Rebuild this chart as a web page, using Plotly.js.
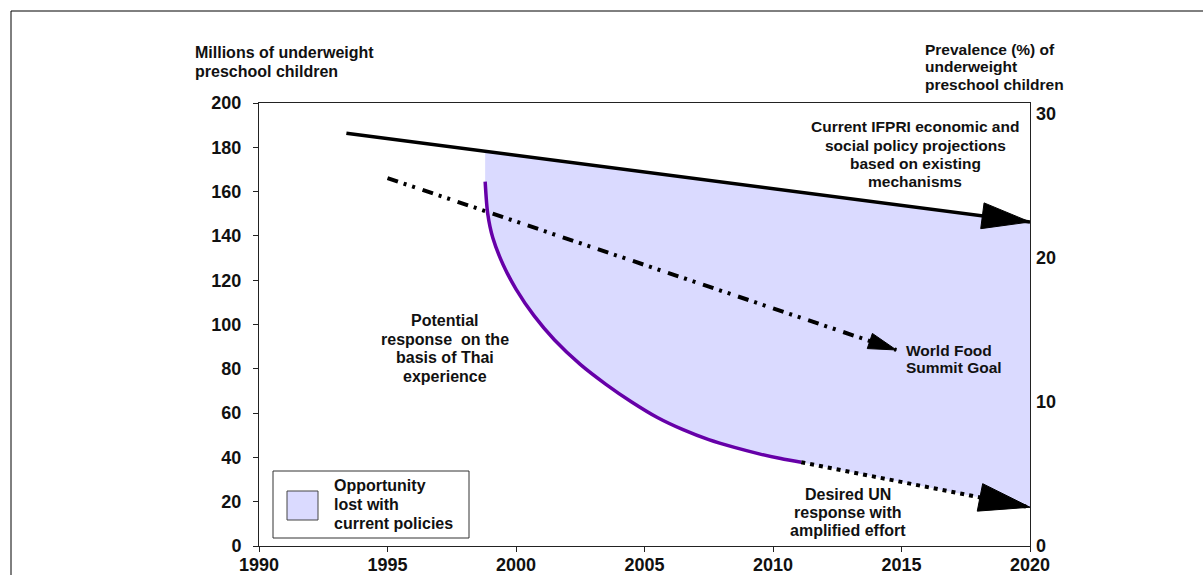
<!DOCTYPE html>
<html>
<head>
<meta charset="utf-8">
<script src="https://cdn.plot.ly/plotly-3.0.1.min.js"></script>
<style>html,body{margin:0;padding:0;background:#fff;}#chart{width:1203px;height:575px;}</style>
</head>
<body>
<div id="chart"></div>
<script>
// ---- data ----
const ifpriYears = [1993.4, 2020];
const ifpriValues = [186.3, 146.3];

const wfsYears = [1995.0, 2014.8];
const wfsValues = [166.1, 88.5];

const thaiYears = [1998.8, 1998.9, 1999.1, 1999.5, 2000.0, 2000.7, 2001.5, 2002.5, 2003.5, 2004.5, 2005.5, 2006.5, 2007.5, 2008.5, 2009.5, 2010.3, 2011.1];
const thaiValues = [164.5, 150.0, 139.0, 127.0, 116.0, 104.0, 93.0, 82.0, 73.0, 65.0, 58.0, 52.5, 48.0, 44.5, 41.5, 39.5, 37.8];

const unYears = [2011.1, 2020];
const unValues = [37.8, 17.5];

const xTicks = [1990, 1995, 2000, 2005, 2010, 2015, 2020];
const yTicks = [0, 20, 40, 60, 80, 100, 120, 140, 160, 180, 200];
const prevalenceTicks = [0, 10, 20, 30];
const millionsPerPercent = 6.5;

// ---- layout geometry ----
const W = 1203, H = 575;
const M = {l: 259, r: 173, t: 103, b: 29};
const xRange = [1990, 2020], yRange = [0, 200];
const sx = (W - M.l - M.r) / (xRange[1] - xRange[0]);
const sy = (H - M.t - M.b) / (yRange[1] - yRange[0]);

const FONT = 'Liberation Sans, Arial, Helvetica, sans-serif';
const txt = (size) => ({family: FONT, size: size, color: '#111', weight: 'bold'});

// fill region: between IFPRI line (top) and Thai + UN responses (bottom)
function interp(xs, ys, x) {
  const t = (x - xs[0]) / (xs[xs.length - 1] - xs[0]);
  return ys[0] + t * (ys[ys.length - 1] - ys[0]);
}
const fillX = [thaiYears[0], ifpriYears[ifpriYears.length - 1]];
const fillY = [interp(ifpriYears, ifpriValues, thaiYears[0]), ifpriValues[ifpriValues.length - 1]];
for (let i = unYears.length - 1; i >= 0; i--) { fillX.push(unYears[i]); fillY.push(unValues[i]); }
for (let i = thaiYears.length - 1; i >= 0; i--) { fillX.push(thaiYears[i]); fillY.push(thaiValues[i]); }

// arrowhead triangle computed at the end of a series, sizes in pixels
function arrowHead(xs, ys, len, half) {
  const n = xs.length;
  const tx = xs[n - 1] * sx, ty = ys[n - 1] * sy;
  const px = xs[n - 2] * sx, py = ys[n - 2] * sy;
  const d = Math.hypot(tx - px, ty - py);
  const ux = (tx - px) / d, uy = (ty - py) / d;
  const bx = tx - len * ux, by = ty - len * uy;
  const nx = -uy, ny = ux;
  const pts = [[tx, ty], [bx + half * nx, by + half * ny], [bx - half * nx, by - half * ny], [tx, ty]];
  return {x: pts.map(p => p[0] / sx), y: pts.map(p => p[1] / sy)};
}
function headTrace(h) {
  return {x: h.x, y: h.y, type: 'scatter', mode: 'lines', fill: 'toself', fillcolor: '#000',
          line: {color: '#000', width: 1}, hoverinfo: 'skip', showlegend: false};
}

const FILL = '#DADAFF';
const traces = [
  {x: fillX, y: fillY, type: 'scatter', mode: 'none', fill: 'toself', fillcolor: FILL, hoverinfo: 'skip', showlegend: false},
  {x: ifpriYears, y: ifpriValues, type: 'scatter', mode: 'lines', line: {color: '#000', width: 3.5}, showlegend: false},
  {x: wfsYears, y: wfsValues, type: 'scatter', mode: 'lines', line: {color: '#000', width: 4, dash: '11px,6px,3px,6px,3px,8px'}, showlegend: false},
  {x: thaiYears, y: thaiValues, type: 'scatter', mode: 'lines', line: {color: '#6600A8', width: 3.5, shape: 'spline', smoothing: 0.8}, showlegend: false},
  {x: unYears, y: unValues, type: 'scatter', mode: 'lines', line: {color: '#000', width: 4, dash: '4px,5px'}, showlegend: false},
  headTrace(arrowHead(ifpriYears, ifpriValues, 48, 13)),
  headTrace(arrowHead(wfsYears, wfsValues, 28, 8)),
  headTrace(arrowHead(unYears, unValues, 51, 14)),
  {x: [null], y: [null], yaxis: 'y2', type: 'scatter', mode: 'lines', showlegend: false, hoverinfo: 'skip'}
];

const px2x = (p) => xRange[0] + (p - M.l) / sx;
const px2y = (p) => (H - M.b - p) / sy;
const px2paperX = (p) => (p - M.l) / (W - M.l - M.r);
const px2paperY = (p) => (H - M.b - p) / (H - M.t - M.b);

// one annotation per text line, so the line spacing follows the reference
function textBlock(lines, xPx, firstLinePx, spacing, anchor, size) {
  return lines.map((s, i) => ({
    xref: 'paper', yref: 'paper', x: px2paperX(xPx), y: px2paperY(firstLinePx + i * spacing),
    xanchor: anchor, yanchor: 'middle', align: anchor === 'left' ? 'left' : 'center',
    showarrow: false, text: s, font: txt(size)
  }));
}

const annotations = [].concat(
  textBlock(['Millions of underweight', 'preschool children'], 193, 53, 18.7, 'left', 16),
  textBlock(['Prevalence (%) of', 'underweight', 'preschool children'], 923, 49, 17.8, 'left', 15.5),
  textBlock(['Current IFPRI economic and', 'social policy projections', 'based on existing', 'mechanisms'], 915, 127, 18.3, 'center', 15.5),
  textBlock(['World Food', 'Summit Goal'], 904, 350, 17, 'left', 15.5),
  textBlock(['Potential', 'response\u00A0 on the', 'basis of Thai', 'experience'], 445, 320.5, 18.6, 'center', 16),
  textBlock(['Desired UN', 'response with', 'amplified effort'], 848, 494, 18, 'center', 16),
  textBlock(['Opportunity', 'lost with', 'current policies'], 332, 485, 19, 'left', 16)
);

const layout = {
  width: W, height: H,
  margin: M,
  paper_bgcolor: '#fff', plot_bgcolor: '#fff',
  showlegend: false,
  xaxis: {
    range: xRange, tickvals: xTicks, ticktext: xTicks.map(String),
    showgrid: false, zeroline: false,
    showline: true, linecolor: '#222', linewidth: 1, mirror: true,
    ticks: 'outside', ticklen: 5, tickcolor: '#222', tickfont: txt(18),
    ticklabelstandoff: -3
  },
  yaxis: {
    range: yRange, tickvals: yTicks, ticktext: yTicks.map(String),
    showgrid: false, zeroline: false,
    showline: true, linecolor: '#222', linewidth: 1, mirror: true,
    ticks: 'outside', ticklen: 5, tickcolor: '#222', tickfont: txt(18),
    ticklabelstandoff: 8
  },
  yaxis2: {
    overlaying: 'y', side: 'right',
    range: [yRange[0] / millionsPerPercent, yRange[1] / millionsPerPercent],
    tickvals: prevalenceTicks, ticktext: prevalenceTicks.map(String),
    showgrid: false, zeroline: false, showline: false, ticks: '',
    tickfont: txt(18), ticklabelstandoff: 5
  },
  shapes: [
    // outer frame
    {type: 'rect', xref: 'paper', yref: 'paper', x0: px2paperX(11), x1: px2paperX(1230), y0: px2paperY(600), y1: px2paperY(11),
     line: {color: '#000', width: 1}, layer: 'below'},
    // legend box
    {type: 'rect', xref: 'x', yref: 'y', x0: px2x(273), x1: px2x(469), y0: px2y(538), y1: px2y(471),
     line: {color: '#333', width: 1}, fillcolor: '#fff'},
    {type: 'rect', xref: 'x', yref: 'y', x0: px2x(287), x1: px2x(318), y0: px2y(520), y1: px2y(491),
     line: {color: '#444', width: 1}, fillcolor: FILL}
  ],
  annotations: annotations
};

Plotly.newPlot('chart', traces, layout, {staticPlot: true, displayModeBar: false});
</script>
</body>
</html>
